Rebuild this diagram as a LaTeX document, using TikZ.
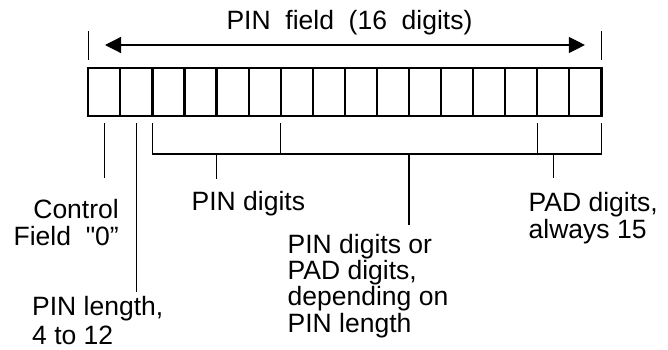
\documentclass[tikz,border=0pt]{standalone}
\usepackage{fontspec}
\setmainfont{Liberation Sans}[Ligatures=TeXOff]
\usetikzlibrary{arrows.meta}
\begin{document}
\begin{tikzpicture}[x=1pt,y=-1pt,
  cell/.style={draw, line width=2.2pt, minimum width=32.07pt, minimum height=47.7pt, inner sep=0pt, outer sep=0pt, anchor=center},
  lead/.style={line width=1.2pt},
  lbl/.style={inner sep=0pt, font=\fontsize{26.5}{26.7}\selectfont},
]
\useasboundingbox (0,0) rectangle (668,350);
\foreach \i in {1,...,16}
  \node[cell] (c\i) at ({88.3+32.07*(\i-0.5)},92.15) {};
% top marks and arrow
\draw[lead] ([yshift=8.3pt]c1.north west) -- ([yshift=37.6pt]c1.north west);
\draw[lead] ([yshift=8.3pt]c16.north east) -- ([yshift=37.6pt]c16.north east);
\draw[lead, {Triangle[length=16pt,width=16pt]}-{Triangle[length=16pt,width=16pt]}]
  ([xshift=16.7pt,yshift=23.3pt]c1.north west) -- ([xshift=-16.5pt,yshift=23.3pt]c16.north east);
\node[lbl, anchor=base] (title) at (349.5,30) {PIN\ \ field\ \ (16\ \ digits)};
% leaders below
\draw[lead] ([yshift=-7pt]c1.south) -- ([yshift=-62pt]c1.south) coordinate (ctrlend);
\draw[lead] ([yshift=-7pt]c2.south) -- ([yshift=-176pt]c2.south) coordinate (lenend);
\draw[lead] ([yshift=-7pt]c3.south west) |- ([yshift=-38pt]c16.south east) -- ([yshift=-7pt]c16.south east);
\draw[lead] ([yshift=-7pt]c7.south west) -- ([yshift=-38pt]c7.south west);
\draw[lead] ([yshift=-7pt]c15.south west) -- ([yshift=-38pt]c15.south west);
\draw[lead] ([yshift=-38pt]c4.south east) -- ([yshift=-63pt]c4.south east) coordinate (pinend);
\draw[lead] ([yshift=-38pt]c10.south east) -- ([yshift=-109pt]c10.south east) coordinate (mixend);
\draw[lead] ([yshift=-38pt]c15.south) -- ([yshift=-62pt]c15.south) coordinate (padend);
% labels (base anchor = baseline of last line)
\node[lbl, anchor=base east, align=right] (ctrl) at (119,245) {Control\\Field\ \ "0”};
\node[lbl, anchor=base west, align=left, font=\fontsize{26.5}{29}\selectfont] (len) at (32,344.5) {PIN length,\\4 to 12};
\node[lbl, anchor=base west] (pin) at (191.5,210) {PIN digits};
\node[lbl, anchor=base west, align=left, font=\fontsize{26.5}{26.3}\selectfont] (mix) at (287.5,332) {PIN digits or\\PAD digits,\\depending on\\PIN length};
\node[lbl, anchor=base west, align=left] (pad) at (528.5,238.3) {PAD digits,\\always 15};
\end{tikzpicture}
\end{document}
